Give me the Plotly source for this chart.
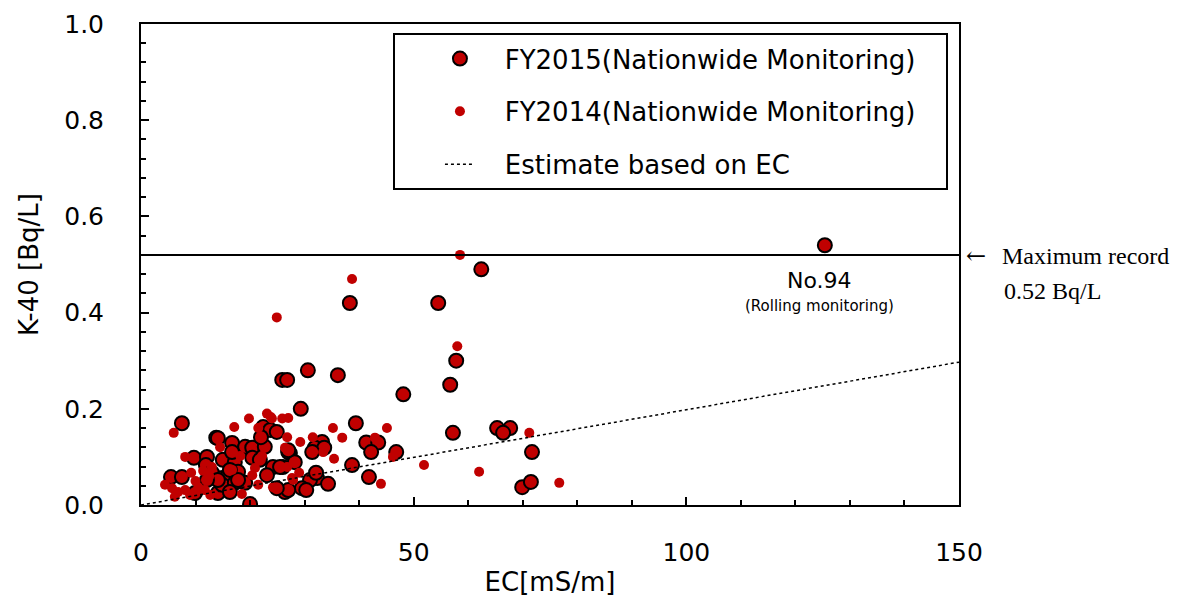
import plotly.graph_objects as go

# FY2015 (Nationwide Monitoring)
fy2015_ec = [125.4, 62.4, 54.5, 38.3, 57.8, 56.7, 30.6, 36.1, 25.9, 26.8, 48.1, 29.3, 39.4, 7.5, 57.2,
             65.3, 67.7, 66.4, 41.3, 43.5, 42.2, 46.8, 71.7, 38.7, 41.8, 69.9, 71.5, 13.8, 9.7, 12.1,
             11.9, 5.5, 7.5, 9.9, 14.1, 13.0, 14.9, 22.4, 23.7, 24.9, 14.1, 16.7, 19.1, 20.4, 22.7,
             27.3, 15.0, 17.2, 20.4, 21.8, 24.2, 26.0, 17.8, 16.0, 23.1, 14.9, 17.2, 19.1, 26.4, 16.3,
             20.0, 33.2, 31.9, 33.6, 31.4, 27.0, 28.2, 32.3, 31.0, 34.3, 29.5, 30.3, 27.0, 25.5, 27.0,
             24.9, 32.1, 22.0, 16.7, 14.1, 12.1, 16.3, 17.8]
fy2015_k = [0.54, 0.49, 0.42, 0.42, 0.30, 0.25, 0.28, 0.27, 0.26, 0.26, 0.23, 0.20, 0.17, 0.17, 0.15,
            0.16, 0.16, 0.15, 0.13, 0.13, 0.11, 0.11, 0.11, 0.083, 0.058, 0.037, 0.048, 0.14, 0.098, 0.10,
            0.083, 0.058, 0.058, 0.025, 0.025, 0.067, 0.056, 0.162, 0.156, 0.152, 0.139, 0.129, 0.121, 0.119, 0.121,
            0.108, 0.094, 0.089, 0.098, 0.094, 0.079, 0.079, 0.069, 0.062, 0.062, 0.042, 0.046, 0.046, 0.027, 0.027,
            0.002, 0.131, 0.119, 0.119, 0.110, 0.110, 0.089, 0.056, 0.052, 0.044, 0.035, 0.031, 0.031, 0.079, 0.114,
            0.035, 0.067, 0.141, 0.110, 0.052, 0.052, 0.073, 0.052]

# FY2014 (Nationwide Monitoring)
fy2014_ec = [58.5, 38.7, 58.0, 24.9, 45.1, 36.9, 42.9, 46.2, 51.9, 62.0, 71.2, 44.0, 76.7, 19.8, 23.1,
             24.0, 25.9, 23.8, 26.8, 29.2, 31.5, 35.2, 35.4, 33.4, 29.0, 27.9, 6.0, 14.5, 8.1, 17.1,
             21.5, 26.4, 20.4, 21.5, 24.2, 18.5, 27.0, 27.7, 26.8, 5.7, 6.8, 8.1, 9.0, 10.5, 4.4,
             11.7, 12.7, 6.2, 16.7, 20.9, 22.2, 18.2, 13.0, 9.2, 11.4, 10.0, 12.5]
fy2014_k = [0.52, 0.47, 0.33, 0.39, 0.16, 0.14, 0.14, 0.10, 0.083, 0.069, 0.15, 0.044, 0.046, 0.18, 0.19,
            0.18, 0.18, 0.183, 0.141, 0.131, 0.141, 0.16, 0.096, 0.11, 0.067, 0.052, 0.15, 0.12, 0.10, 0.162,
            0.16, 0.119, 0.062, 0.042, 0.037, 0.023, 0.181, 0.056, 0.079, 0.035, 0.027, 0.031, 0.021, 0.037, 0.042,
            0.031, 0.021, 0.017, 0.073, 0.077, 0.102, 0.102, 0.079, 0.067, 0.071, 0.05, 0.06]

# Estimate based on EC
est_ec = [0, 150]
est_k = [0, 0.297]

max_record = 0.52
no94_ec = 124.5

RED = "#C00000"
FONT = "DejaVu Sans"
NB = "\u00a0\u00a0\u00a0"

fig = go.Figure()
fig.add_trace(go.Scatter(
    x=fy2015_ec, y=fy2015_k, mode="markers", name=NB + "FY2015(Nationwide Monitoring)" + NB,
    legendgroup="a",
    marker=dict(size=14, color=RED, line=dict(color="black", width=2)),
))
fig.add_trace(go.Scatter(
    x=fy2014_ec, y=fy2014_k, mode="markers", name=NB + "FY2014(Nationwide Monitoring)" + NB,
    legendgroup="b",
    marker=dict(size=10, color=RED, line=dict(width=0)),
))
fig.add_trace(go.Scatter(
    x=est_ec, y=est_k, mode="lines", name=NB + "Estimate based on EC",
    legendgroup="c",
    line=dict(color="black", width=1.5, dash="dot"),
))

fig.add_shape(type="line", xref="paper", x0=0, x1=1, yref="y", y0=max_record, y1=max_record,
              line=dict(color="black", width=2))

fig.add_annotation(x=no94_ec, y=0.466, xref="x", yref="y", text="No.94", showarrow=False,
                   font=dict(family=FONT, size=22, color="black"))
fig.add_annotation(x=no94_ec, y=0.414, xref="x", yref="y", text="(Rolling monitoring)", showarrow=False,
                   font=dict(family=FONT, size=15, color="black"))
fig.add_annotation(x=1.0061, y=0.5177, xref="paper", yref="paper", text="←",
                   showarrow=False, xanchor="left", yanchor="middle",
                   font=dict(family="DejaVu Serif", size=24, color="black"))
fig.add_annotation(x=1.0500, y=0.5177, xref="paper", yref="paper", text="Maximum record",
                   showarrow=False, xanchor="left", yanchor="middle",
                   font=dict(family="Liberation Serif", size=24, color="black"))
fig.add_annotation(x=1.0525, y=0.4449, xref="paper", yref="paper", text="0.52 Bq/L",
                   showarrow=False, xanchor="left", yanchor="middle",
                   font=dict(family="Liberation Serif", size=24, color="black"))

axis_common = dict(
    showline=True, mirror=True, linecolor="black", linewidth=2,
    ticks="inside", ticklen=8, tickwidth=1.5, tickcolor="black",
    showgrid=False, zeroline=False,
    tickfont=dict(family=FONT, size=25, color="black"),
)

fig.update_xaxes(
    range=[0, 150], dtick=50, tick0=0,
    minor=dict(ticks="inside", dtick=10, ticklen=5, tickwidth=1.5, tickcolor="black", showgrid=False),
    title=dict(text="EC[mS/m]", font=dict(family=FONT, size=26, color="black"), standoff=8),
    ticklabelstandoff=24,
    **axis_common,
)
fig.update_yaxes(
    range=[0, 1], dtick=0.2, tick0=0, tickformat=".1f",
    minor=dict(ticks="inside", dtick=0.04, ticklen=5, tickwidth=1.5, tickcolor="black", showgrid=False),
    title=dict(text="K-40 [Bq/L]", font=dict(family=FONT, size=26, color="black"), standoff=18),
    ticklabelstandoff=30,
    **axis_common,
)

fig.update_layout(
    width=1182, height=597,
    margin=dict(l=141, r=223, t=24, b=92, autoexpand=False),
    paper_bgcolor="white", plot_bgcolor="white",
    showlegend=True,
    legend=dict(
        x=0.308, y=0.981, xanchor="left", yanchor="top",
        bordercolor="black", borderwidth=2, bgcolor="white",
        font=dict(family=FONT, size=26, color="black"),
        traceorder="grouped", tracegroupgap=16, indentation=45,
        itemsizing="trace",
    ),
)

fig.write_html("out.html")
